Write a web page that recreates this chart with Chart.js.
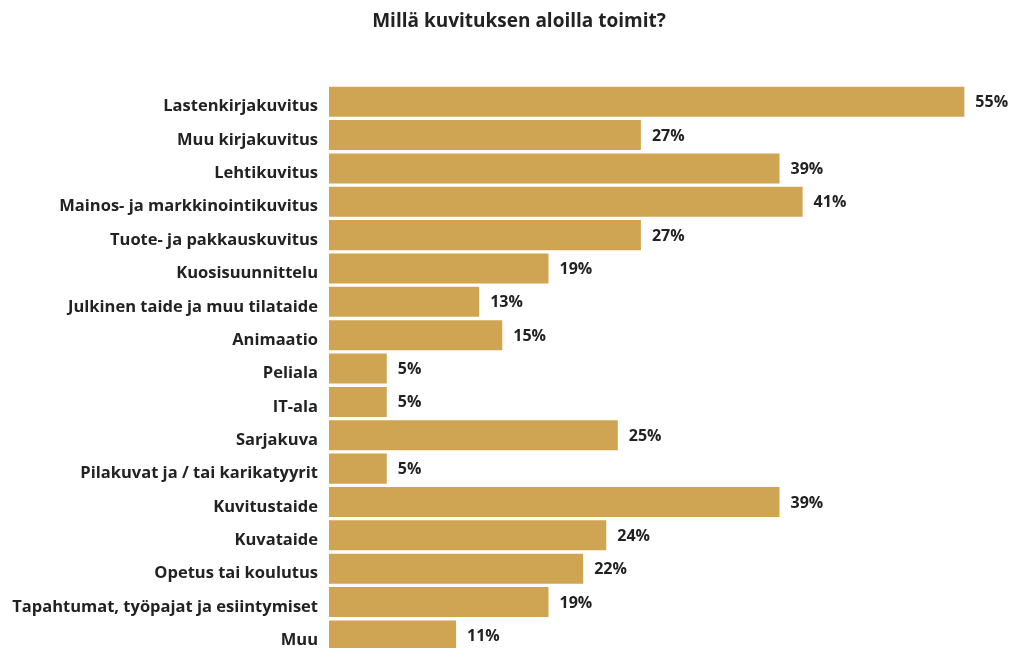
<!DOCTYPE html>
<html>
<head>
<meta charset="utf-8">
<script src="https://cdn.jsdelivr.net/npm/chart.js@4"></script>
<style>
  html, body { margin: 0; padding: 0; background: #fff; overflow: hidden; }
</style>
</head>
<body>
<!-- taller than the window on purpose: the last bar is cut off at the bottom edge -->
<canvas id="chart" width="1013" height="673"></canvas>
<script>
const title = 'Millä kuvituksen aloilla toimit?';
const categories = [
  'Lastenkirjakuvitus', 'Muu kirjakuvitus', 'Lehtikuvitus', 'Mainos- ja markkinointikuvitus',
  'Tuote- ja pakkauskuvitus', 'Kuosisuunnittelu', 'Julkinen taide ja muu tilataide', 'Animaatio',
  'Peliala', 'IT-ala', 'Sarjakuva', 'Pilakuvat ja / tai karikatyyrit', 'Kuvitustaide',
  'Kuvataide', 'Opetus tai koulutus', 'Tapahtumat, työpajat ja esiintymiset', 'Muu'
];
const shares = [55, 27, 39, 41, 27, 19, 13, 15, 5, 5, 25, 5, 39, 24, 22, 19, 11];

const gold = '#CFA452';
const ink = '#222222';
const fontFamily = '"Open Sans", Lato, sans-serif';

// title drawn over the whole canvas, slightly right of centre like the original
const titlePlugin = {
  id: 'titleText',
  afterDraw(chart) {
    const ctx = chart.ctx;
    ctx.save();
    ctx.font = `bold 19px ${fontFamily}`;
    ctx.fillStyle = ink;
    ctx.textAlign = 'center';
    ctx.textBaseline = 'middle';
    ctx.fillText(title, 519, 22);
    ctx.restore();
  }
};

// percentage next to each bar end
const valueLabels = {
  id: 'valueLabels',
  afterDatasetsDraw(chart) {
    const ctx = chart.ctx;
    const meta = chart.getDatasetMeta(0);
    ctx.save();
    ctx.font = `bold 16px ${fontFamily}`;
    ctx.fillStyle = ink;
    ctx.textAlign = 'left';
    ctx.textBaseline = 'middle';
    meta.data.forEach((bar, i) => {
      ctx.fillText(shares[i] + '%', bar.x + 11, bar.y + 1);
    });
    ctx.restore();
  }
};

new Chart(document.getElementById('chart'), {
  type: 'bar',
  data: {
    labels: categories,
    datasets: [{ data: shares, backgroundColor: gold, borderWidth: 0, categoryPercentage: 0.9, barPercentage: 1 }]
  },
  options: {
    indexAxis: 'y',
    responsive: false,
    animation: false,
    layout: { padding: { top: 85, right: 14, bottom: 12, left: 0 } },
    plugins: { legend: { display: false }, tooltip: { enabled: false }, title: { display: false } },
    scales: {
      x: { display: false, min: 0, max: 58 },
      y: {
        grid: { display: false, drawTicks: false },
        border: { display: false },
        ticks: { color: ink, padding: 11, labelOffset: 5, font: { family: fontFamily, size: 16.5, weight: 'bold' } },
        afterFit(scale) { scale.width = 329; }
      }
    }
  },
  plugins: [titlePlugin, valueLabels]
});
</script>
</body>
</html>
